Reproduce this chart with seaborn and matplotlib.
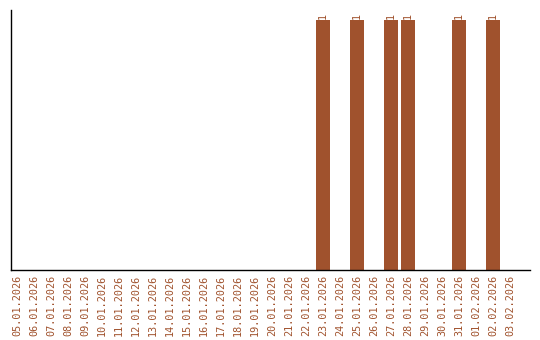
import matplotlib
matplotlib.use("Agg")
import matplotlib.pyplot as plt
import seaborn as sns
import pandas as pd

dates = ["05.01.2026", "06.01.2026", "07.01.2026", "08.01.2026", "09.01.2026",
         "10.01.2026", "11.01.2026", "12.01.2026", "13.01.2026", "14.01.2026",
         "15.01.2026", "16.01.2026", "17.01.2026", "18.01.2026", "19.01.2026",
         "20.01.2026", "21.01.2026", "22.01.2026", "23.01.2026", "24.01.2026",
         "25.01.2026", "26.01.2026", "27.01.2026", "28.01.2026", "29.01.2026",
         "30.01.2026", "31.01.2026", "01.02.2026", "02.02.2026", "03.02.2026"]
values = [0, 0, 0, 0, 0, 0, 0, 0, 0, 0,
          0, 0, 0, 0, 0, 0, 0, 0, 1, 0,
          1, 0, 1, 1, 0, 0, 1, 0, 1, 0]

color = "#A0522D"
sns.set_style("white")
plt.rcParams['font.family'] = ['DejaVu Sans Mono', 'DejaVu Sans']

df = pd.DataFrame({"date": dates, "value": values})

fig = plt.figure(figsize=(5.4, 3.4), dpi=100)
ax = fig.add_axes([11/540, 70/340, 519/540, 260/340])
sns.barplot(data=df, x="date", y="value", color=color, saturation=1,
            width=14/17, ax=ax, order=dates, linewidth=0, edgecolor="none")

labels = [str(v) if v else "" for v in values]
ax.bar_label(ax.containers[0], labels=labels, rotation=90, padding=1,
             fontsize=7.3, color=color)

ax.set_xlim(-6/17, 29 + 20/17)
ax.set_ylim(0, 260/250)
ax.set_xlabel("")
ax.set_ylabel("")
ax.set_yticks([])
ax.tick_params(axis="x", length=0, pad=3.5, labelsize=7.3, labelcolor=color,
               labelrotation=90)
for s in ["top", "right"]:
    ax.spines[s].set_visible(False)
for s in ["left", "bottom"]:
    ax.spines[s].set_color("black")
    ax.spines[s].set_linewidth(1)

fig.savefig("out.png", dpi=100)
